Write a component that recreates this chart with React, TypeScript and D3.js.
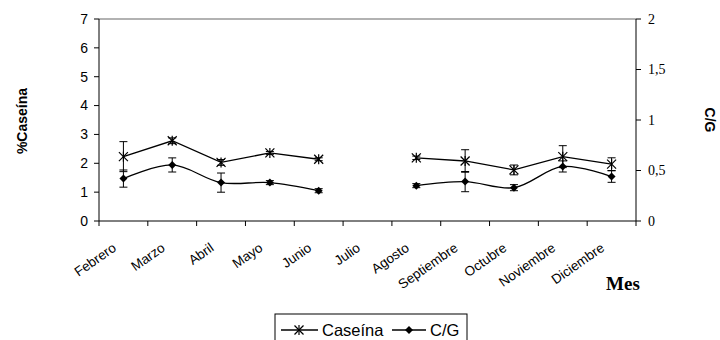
import React from 'react';
import * as d3 from 'd3';

const months = ['Febrero', 'Marzo', 'Abril', 'Mayo', 'Junio', 'Julio', 'Agosto', 'Septiembre', 'Octubre', 'Noviembre', 'Diciembre'];
const caseina = [2.23, 2.78, 2.03, 2.36, 2.14, null, 2.19, 2.08, 1.77, 2.23, 1.97];
const caseinaErr = [0.52, 0.1, 0.1, 0.05, 0.05, null, 0.06, 0.39, 0.17, 0.38, 0.22];
const cg = [0.42, 0.555, 0.38, 0.38, 0.3, null, 0.35, 0.39, 0.33, 0.54, 0.44];
const cgErr = [0.085, 0.07, 0.095, 0.02, 0.02, null, 0.02, 0.1, 0.03, 0.055, 0.057];
const leftTicks = [0, 1, 2, 3, 4, 5, 6, 7];
const rightTicks = [0, 0.5, 1, 1.5, 2];

const W = 720;
const H = 340;
const margin = { top: 19, right: 84, bottom: 119, left: 99 };

const App: React.FC = () => {
  const x = d3.scaleBand<string>().domain(months).range([margin.left, W - margin.right]);
  const yL = d3.scaleLinear().domain([0, 7]).range([H - margin.bottom, margin.top]);
  const yR = d3.scaleLinear().domain([0, 2]).range([H - margin.bottom, margin.top]);
  const cx = (m: string) => (x(m) as number) + x.bandwidth() / 2;
  const x0 = margin.left;
  const x1 = W - margin.right;
  const yBase = H - margin.bottom;

  const casLine = d3.line<number | null>()
    .defined(d => d != null)
    .x((_d, i) => cx(months[i]))
    .y(d => yL(d as number));
  // C/G is drawn as a smoothed line
  const cgLine = d3.line<number | null>()
    .defined(d => d != null)
    .x((_d, i) => cx(months[i]))
    .y(d => yR(d as number))
    .curve(d3.curveCatmullRom.alpha(0.5));

  const star = (px: number, py: number, k: string) => (
    <g key={k} stroke="#000" strokeWidth={1.2}>
      <line x1={px - 4.5} y1={py - 4.5} x2={px + 4.5} y2={py + 4.5} />
      <line x1={px - 4.5} y1={py + 4.5} x2={px + 4.5} y2={py - 4.5} />
      <line x1={px} y1={py - 5} x2={px} y2={py + 5} />
    </g>
  );
  const diamond = (px: number, py: number, k: string) => (
    <path key={k} d={`M${px},${py - 4} L${px + 4},${py} L${px},${py + 4} L${px - 4},${py} Z`} fill="#000" />
  );
  const errBar = (px: number, top: number, bot: number, k: string) => (
    <g key={k} stroke="#000" strokeWidth={1}>
      <line x1={px} y1={top} x2={px} y2={bot} />
      <line x1={px - 4} y1={top} x2={px + 4} y2={top} />
      <line x1={px - 4} y1={bot} x2={px + 4} y2={bot} />
    </g>
  );

  const legX = 275;
  const legY = 314;

  return (
    <svg width={W} height={H} style={{ position: 'absolute', left: 0, top: 0, background: '#fff' }}>
      {/* plot frame */}
      <line x1={x0} y1={margin.top} x2={x1} y2={margin.top} stroke="#999" strokeWidth={1.5} />
      <line x1={x0} y1={margin.top} x2={x0} y2={yBase} stroke="#000" />
      <line x1={x1} y1={margin.top} x2={x1} y2={yBase} stroke="#000" />
      <line x1={x0} y1={yBase} x2={x1} y2={yBase} stroke="#000" />

      {/* left axis */}
      {leftTicks.map(t => (
        <g key={'l' + t}>
          <line x1={x0 - 5} y1={yL(t)} x2={x0} y2={yL(t)} stroke="#000" />
          <text x={x0 - 11} y={yL(t)} dy="0.35em" textAnchor="end" fontFamily="Arial, 'Liberation Sans'" fontSize={14}>{t}</text>
        </g>
      ))}
      {/* right axis */}
      {rightTicks.map(t => (
        <g key={'r' + t}>
          <line x1={x1} y1={yR(t)} x2={x1 + 5} y2={yR(t)} stroke="#000" />
          <text x={x1 + 12} y={yR(t)} dy="0.35em" textAnchor="start" fontFamily="'Times New Roman', 'Liberation Serif'" fontSize={14}>{String(t).replace('.', ',')}</text>
        </g>
      ))}
      {/* x ticks */}
      {months.map(m => (
        <line key={'t' + m} x1={x(m) as number} y1={yBase} x2={x(m) as number} y2={yBase + 5} stroke="#000" />
      ))}
      <line x1={x1} y1={yBase} x2={x1} y2={yBase + 5} stroke="#000" />
      {months.map(m => (
        <text key={'x' + m} transform={`translate(${cx(m) - 9},${yBase + 25}) rotate(-35)`} textAnchor="end" dy="0.35em"
          fontFamily="Arial, 'Liberation Sans'" fontSize={13.5}>{m}</text>
      ))}

      {/* titles */}
      <text transform="translate(27,121) rotate(-90)" textAnchor="middle" fontFamily="Arial, 'Liberation Sans'" fontWeight="bold" fontSize={14}>%Caseína</text>
      <text transform="translate(705,120) rotate(90)" textAnchor="middle" fontFamily="Arial, 'Liberation Sans'" fontWeight="bold" fontSize={14}>C/G</text>
      <text x={623} y={290} textAnchor="middle" fontFamily="'Times New Roman', 'Liberation Serif'" fontWeight="bold" fontSize={19}>Mes</text>

      {/* error bars */}
      {caseina.map((v, i) => v == null ? null :
        errBar(cx(months[i]), yL(v + (caseinaErr[i] as number)), yL(v - (caseinaErr[i] as number)), 'ce' + i))}
      {cg.map((v, i) => v == null ? null :
        errBar(cx(months[i]), yR(v + (cgErr[i] as number)), yR(v - (cgErr[i] as number)), 'ge' + i))}

      {/* lines */}
      <path d={casLine(caseina) || ''} fill="none" stroke="#000" strokeWidth={1.3} />
      <path d={cgLine(cg) || ''} fill="none" stroke="#000" strokeWidth={1.3} />
      {caseina.map((v, i) => v == null ? null : star(cx(months[i]), yL(v), 's' + i))}
      {cg.map((v, i) => v == null ? null : diamond(cx(months[i]), yR(v), 'd' + i))}

      {/* legend */}
      <rect x={legX} y={legY} width={192} height={30} fill="#fff" stroke="#000" />
      <line x1={legX + 6} y1={legY + 16} x2={legX + 43} y2={legY + 16} stroke="#000" strokeWidth={1.3} />
      {star(legX + 24, legY + 16, 'ls')}
      <text x={legX + 47} y={legY + 22} fontFamily="Arial, 'Liberation Sans'" fontSize={16.5}>Caseína</text>
      <line x1={legX + 117} y1={legY + 16} x2={legX + 151} y2={legY + 16} stroke="#000" strokeWidth={1.3} />
      {diamond(legX + 134, legY + 16, 'ld')}
      <text x={legX + 155} y={legY + 22} fontFamily="Arial, 'Liberation Sans'" fontSize={16.5}>C/G</text>
    </svg>
  );
};

export default App;
